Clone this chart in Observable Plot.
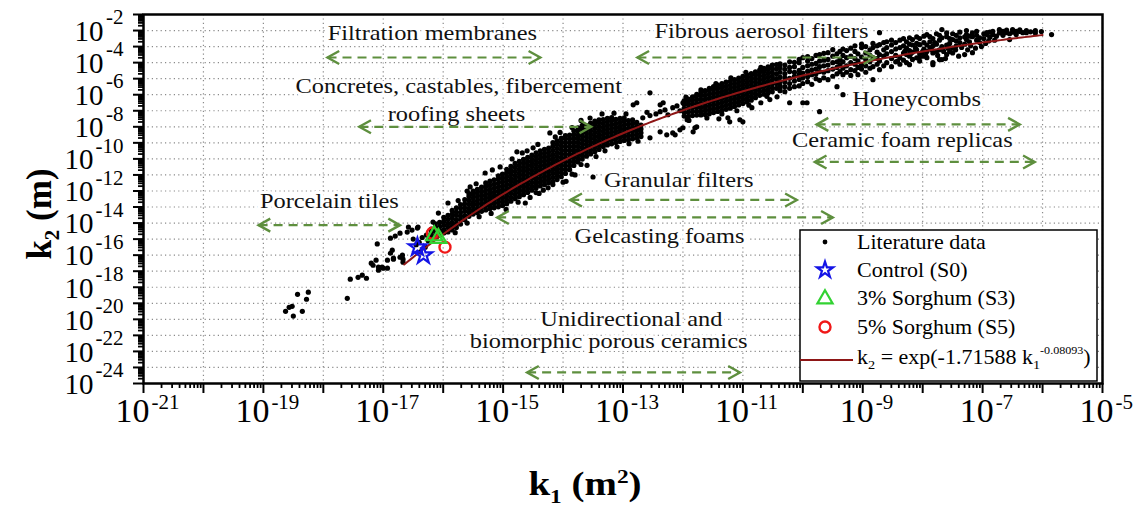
<!DOCTYPE html>
<html>
<head>
<meta charset="utf-8">
<script src="https://cdn.jsdelivr.net/npm/d3@7"></script>
<script src="https://cdn.jsdelivr.net/npm/@observablehq/plot@0.6"></script>
<style>
  body { margin: 0; background: #fff; }
  #wrap { position: relative; width: 1139px; height: 508px; font-family: "Liberation Serif", "Times New Roman", serif; }
  .axt { position: absolute; font-weight: bold; color: #000; white-space: nowrap; line-height: 1; }
  .axt sub, .axt sup { font-size: 60%; }
  #legend { position: absolute; left: 799px; top: 229px; }
</style>
</head>
<body>
<div id="wrap"></div>
<script>
// ---- axis tick labels (exponents of ten) ----
const xLabelExps = [-21, -19, -17, -15, -13, -11, -9, -7, -5];
const yLabelExps = [-24, -22, -20, -18, -16, -14, -12, -10, -8, -6, -4, -2];

// ---- literature data, log10(k1) and log10(k2) ----
// isolated points (porcelain tiles, low-permeability end and scattered outliers)
const litScattered = [
  [-18.63, -19.5], [-18.57, -19.25], [-18.52, -19.19], [-18.5, -19.8], [-18.35, -19.5],
  [-18.43, -18.44], [-18.28, -18.75], [-18.25, -18.31], [-17.6, -18.69],
  [-17.55, -17.5], [-17.42, -17.38], [-17.35, -17.25], [-17.28, -17.44], [-17.2, -16.5],
  [-17.12, -16.31], [-17.08, -16.75], [-17.0, -16.81], [-16.85, -15.69], [-16.83, -16.25],
  [-16.68, -16.0], [-16.67, -16.25], [-16.88, -14.94], [-16.8, -14.81], [-16.72, -14.63],
  [-16.6, -14.56], [-16.52, -14.44], [-16.43, -14.31], [-16.72, -16.13], [-16.83, -16.19],
  [-16.67, -16.44], [-17.17, -16.63], [-17.08, -16.94], [-17.02, -16.75], [-16.93, -16.81],
  [-16.88, -15.88], [-16.93, -16.31], [-16.58, -14.25], [-16.42, -14.25], [-17.1, -15.3],
  [-16.4, -15.2], [-16.35, -14.9], [-16.28, -14.75], [-16.25, -15.1], [-16.3, -15.5],
  [-16.38, -15.8], [-16.45, -15.35], [-16.5, -15.0],
  [-15.3, -10.88], [-15.18, -10.69], [-15.55, -11.75], [-14.77, -9.56], [-14.5, -9.31],
  [-14.68, -9.63], [-14.22, -8.38], [-14.13, -8.63], [-15.92, -12.75], [-16.08, -13.38],
  [-16.17, -13.94], [-14.63, -12.75], [-14.33, -11.95], [-14.17, -11.6], [-13.5, -11.13],
  [-14.55, -12.4], [-14.4, -12.15], [-13.95, -11.4], [-13.8, -11.0], [-13.6, -10.4],
  [-12.67, -7.44], [-12.55, -7.3], [-12.38, -7.06], [-12.17, -6.81], [-12.0, -6.5],
  [-12.6, -7.1], [-12.45, -7.2], [-12.3, -6.95], [-12.25, -7.25], [-12.1, -6.7], [-12.05, -7.0],
  [-12.55, -8.69], [-12.38, -8.31], [-12.27, -8.5], [-12.13, -8.5], [-12.05, -8.19],
  [-11.93, -7.56], [-11.8, -8.06], [-11.83, -8.31], [-12.0, -8.06], [-11.77, -8.0], [-12.17, -8.38],
  [-12.77, -6.5], [-12.33, -6.5], [-12.55, -5.88], [-12.83, -6.63], [-12.38, -6.63],
  [-11.25, -7.44], [-11.22, -7.69], [-11.05, -7.56], [-11.0, -7.69], [-10.85, -6.81],
  [-11.4, -7.5], [-10.7, -6.5], [-10.55, -6.3], [-9.93, -6.5], [-10.38, -5.56], [-10.43, -6.13],
  [-8.3, -3.3], [-8.2, -3.45], [-8.12, -3.1], [-8.0, -3.3], [-7.95, -3.55], [-7.85, -3.2],
  [-7.75, -3.55], [-7.65, -3.3], [-7.58, -3.1], [-7.5, -3.4], [-7.45, -3.2], [-7.35, -3.05],
  [-7.25, -3.2], [-7.2, -2.95], [-7.12, -3.1], [-7.02, -3.0], [-6.95, -2.8], [-6.9, -2.65],
  [-6.8, -2.6], [-7.4, -3.6], [-7.62, -3.75], [-8.42, -3.9], [-8.05, -3.65], [-7.8, -2.75],
  // ragged edges of the dense band
  [-15.75, -12.6], [-15.6, -12.0], [-15.45, -11.55], [-15.05, -10.5], [-14.85, -10.0], [-14.6, -9.5],
  [-14.42, -9.1], [-14.05, -8.35], [-13.85, -8.05], [-13.7, -7.6], [-13.55, -7.45], [-13.35, -7.2],
  [-13.15, -7.15], [-12.95, -7.2], [-15.8, -14.6], [-15.6, -14.0], [-15.4, -13.6], [-15.2, -13.4],
  [-14.95, -13.15], [-14.75, -12.7], [-14.45, -12.1], [-14.25, -11.8], [-14.0, -11.45], [-13.85, -10.95],
  [-13.7, -10.35], [-13.45, -9.85], [-13.3, -9.5], [-13.1, -9.25], [-12.9, -9.05], [-12.75, -8.9],
  [-11.95, -6.15], [-11.7, -5.7], [-11.45, -5.3], [-11.2, -4.95], [-10.95, -4.6], [-10.7, -4.3],
  [-11.9, -7.6], [-11.6, -7.45], [-11.35, -7.2], [-11.1, -7.0], [-10.9, -6.65], [-10.6, -6.1]
];

// dense band, lower part: [log10 k1, log10 k2 values at that k1 ...]
const litBandLow = [
  [-16.20, -14.88, -14.6, -14.37], [-16.13, -14.8, -14.52, -14.29, -14.05],
  [-16.06, -14.73, -14.45, -14.22, -13.96], [-15.99, -14.62, -14.4, -14.13, -13.88, -13.64],
  [-15.92, -14.55, -14.28, -14.04, -13.77, -13.52], [-15.85, -14.43, -14.17, -13.95, -13.68, -13.44, -13.21],
  [-15.78, -14.27, -14.05, -13.79, -13.52, -13.31, -13.05], [-15.71, -14.06, -13.8, -13.57, -13.33, -13.06, -12.85],
  [-15.64, -13.8, -13.54, -13.27, -13.05, -12.8, -12.54], [-15.57, -13.58, -13.32, -13.08, -12.83, -12.59, -12.34, -12.17],
  [-15.50, -13.44, -13.19, -12.93, -12.7, -12.44, -12.22, -12.0], [-15.43, -13.35, -13.1, -12.84, -12.61, -12.36, -12.12, -11.9],
  [-15.36, -13.27, -13.01, -12.77, -12.52, -12.28, -12.03, -11.76], [-15.29, -13.18, -12.92, -12.67, -12.43, -12.19, -11.94, -11.7, -11.5],
  [-15.22, -13.1, -12.87, -12.61, -12.37, -12.12, -11.88, -11.63, -11.38], [-15.15, -13.05, -12.8, -12.56, -12.31, -12.07, -11.82, -11.57, -11.3],
  [-15.08, -12.99, -12.74, -12.5, -12.25, -12.01, -11.76, -11.52, -11.28, -11.06],
  [-15.01, -12.9, -12.66, -12.42, -12.17, -11.93, -11.69, -11.44, -11.2, -10.95],
  [-14.94, -12.79, -12.55, -12.31, -12.07, -11.82, -11.58, -11.34, -11.1, -10.86, -10.65],
  [-14.87, -12.64, -12.41, -12.16, -11.92, -11.67, -11.43, -11.19, -10.94, -10.7, -10.46],
  [-14.80, -12.48, -12.23, -11.99, -11.75, -11.5, -11.26, -11.02, -10.77, -10.52, -10.28],
  [-14.73, -12.36, -12.11, -11.87, -11.62, -11.38, -11.13, -10.89, -10.65, -10.41, -10.16],
  [-14.66, -12.23, -11.98, -11.73, -11.49, -11.25, -11.01, -10.76, -10.52, -10.27, -10.03],
  [-14.59, -12.09, -11.85, -11.61, -11.37, -11.13, -10.88, -10.64, -10.39, -10.15, -9.9],
  [-14.52, -11.95, -11.71, -11.47, -11.23, -10.98, -10.74, -10.49, -10.25, -10.01, -9.77],
  [-14.45, -11.81, -11.56, -11.31, -11.07, -10.83, -10.59, -10.35, -10.11, -9.87, -9.62],
  [-14.38, -11.69, -11.45, -11.21, -10.96, -10.71, -10.47, -10.23, -9.99, -9.75, -9.5],
  [-14.31, -11.6, -11.36, -11.11, -10.87, -10.63, -10.39, -10.14, -9.89, -9.65, -9.41],
  [-14.24, -11.49, -11.25, -11.01, -10.77, -10.53, -10.29, -10.05, -9.81, -9.57, -9.32],
  [-14.17, -11.41, -11.16, -10.91, -10.67, -10.43, -10.19, -9.95, -9.71, -9.46, -9.21, -8.98],
  [-14.10, -11.29, -11.05, -10.81, -10.57, -10.33, -10.09, -9.85, -9.61, -9.36, -9.11, -8.87],
  [-14.03, -11.11, -10.87, -10.63, -10.39, -10.15, -9.91, -9.67, -9.43, -9.19, -8.95, -8.71],
  [-13.96, -10.91, -10.67, -10.43, -10.19, -9.95, -9.71, -9.47, -9.23, -8.99, -8.75, -8.55],
  [-13.89, -10.67, -10.43, -10.19, -9.95, -9.71, -9.47, -9.23, -8.99, -8.75, -8.51],
  [-13.82, -10.41, -10.17, -9.93, -9.69, -9.45, -9.21, -8.97, -8.73, -8.49, -8.25],
  [-13.75, -10.19, -9.95, -9.71, -9.47, -9.23, -8.99, -8.75, -8.51, -8.27, -8.06],
  [-13.68, -10.01, -9.77, -9.53, -9.29, -9.05, -8.81, -8.57, -8.33, -8.11, -7.91],
  [-13.61, -9.83, -9.59, -9.35, -9.11, -8.87, -8.63, -8.39, -8.15, -7.93],
  [-13.54, -9.69, -9.45, -9.21, -8.97, -8.73, -8.49, -8.25, -8.01, -7.77],
  [-13.47, -9.55, -9.31, -9.07, -8.83, -8.59, -8.35, -8.11, -7.87, -7.65],
  [-13.40, -9.41, -9.17, -8.93, -8.69, -8.45, -8.21, -7.97, -7.73, -7.57],
  [-13.33, -9.23, -8.99, -8.75, -8.51, -8.27, -8.03, -7.79, -7.55],
  [-13.26, -9.13, -8.89, -8.65, -8.41, -8.17, -7.93, -7.69, -7.47],
  [-13.19, -9.06, -8.81, -8.57, -8.33, -8.09, -7.85, -7.61, -7.43],
  [-13.12, -8.98, -8.74, -8.5, -8.26, -8.02, -7.78, -7.54],
  [-13.05, -8.91, -8.67, -8.43, -8.19, -7.95, -7.71, -7.47],
  [-12.98, -8.85, -8.61, -8.37, -8.13, -7.89, -7.65, -7.45],
  [-12.91, -8.81, -8.57, -8.33, -8.09, -7.85, -7.61],
  [-12.84, -8.75, -8.51, -8.27, -8.03, -7.79, -7.57],
  [-12.77, -8.69, -8.45, -8.21, -7.97, -7.73],
  [-12.70, -8.61, -8.37, -8.13, -7.89]
];

// dense band, middle part
const litBandMid = [
  [-11.98, -7.33, -7.08, -6.85, -6.6, -6.38], [-11.91, -7.35, -7.1, -6.86, -6.62, -6.4, -6.28],
  [-11.84, -7.3, -7.05, -6.81, -6.57, -6.34, -6.14], [-11.77, -7.27, -7.03, -6.79, -6.55, -6.31, -6.07, -5.98],
  [-11.70, -7.26, -7.02, -6.78, -6.54, -6.3, -6.06, -5.87], [-11.63, -7.24, -7.0, -6.76, -6.52, -6.28, -6.04, -5.8, -5.74],
  [-11.56, -7.19, -6.95, -6.71, -6.47, -6.23, -5.99, -5.75, -5.6], [-11.49, -7.11, -6.87, -6.63, -6.39, -6.15, -5.91, -5.67, -5.49],
  [-11.42, -7.04, -6.8, -6.56, -6.32, -6.08, -5.84, -5.6, -5.4], [-11.35, -6.97, -6.73, -6.49, -6.25, -6.01, -5.77, -5.53, -5.31],
  [-11.28, -6.91, -6.67, -6.43, -6.19, -5.95, -5.71, -5.47, -5.21], [-11.21, -6.84, -6.6, -6.36, -6.12, -5.88, -5.64, -5.4, -5.16],
  [-11.14, -6.74, -6.5, -6.26, -6.02, -5.78, -5.54, -5.3, -5.06], [-11.07, -6.64, -6.4, -6.16, -5.92, -5.68, -5.44, -5.2, -4.96],
  [-11.00, -6.54, -6.3, -6.06, -5.82, -5.58, -5.34, -5.1, -4.86], [-10.93, -6.45, -6.21, -5.97, -5.73, -5.49, -5.25, -5.01, -4.77],
  [-10.86, -6.34, -6.1, -5.86, -5.62, -5.38, -5.14, -4.9, -4.68], [-10.79, -6.19, -5.95, -5.71, -5.47, -5.23, -4.99, -4.75, -4.57],
  [-10.72, -6.04, -5.8, -5.56, -5.32, -5.08, -4.84, -4.6, -4.46], [-10.65, -5.97, -5.73, -5.49, -5.25, -5.01, -4.77, -4.53, -4.36],
  [-10.58, -5.89, -5.65, -5.41, -5.17, -4.93, -4.69, -4.45, -4.26], [-10.51, -5.81, -5.57, -5.33, -5.09, -4.85, -4.61, -4.37, -4.16],
  [-10.44, -5.6, -5.3, -5.0, -4.7, -4.4, -4.12]
];

// upper part (coarse pores), thinner scatter
const litBandHigh = [
  [-10.38, -5.75, -5.45, -5.19, -4.9, -4.6, -4.32, -4.08], [-10.30, -5.81, -5.5, -5.2, -4.95, -4.7, -4.42, -4.15],
  [-10.22, -6.5, -5.6, -5.3, -4.98, -4.56, -4.3, -3.95], [-10.14, -5.5, -5.15, -4.85, -4.6, -4.25, -3.98],
  [-10.06, -5.45, -5.05, -4.72, -4.48, -4.0, -3.8], [-10.00, -6.5, -5.3, -4.95, -4.65, -4.3, -3.69],
  [-9.92, -5.19, -4.88, -4.55, -4.2, -3.9, -3.62], [-9.85, -5.35, -4.75, -4.45, -4.1, -3.75],
  [-9.78, -5.0, -4.7, -4.38, -4.05, -3.55], [-9.72, -7.06, -5.1, -4.56, -4.25, -3.9, -3.5],
  [-9.65, -4.95, -4.6, -4.2, -3.85, -3.42], [-9.58, -5.06, -4.5, -4.15, -3.8, -3.38],
  [-9.50, -4.85, -4.4, -4.0, -3.6, -3.19], [-9.43, -5.5, -4.7, -4.3, -3.95, -3.45],
  [-9.38, -4.56, -4.13, -3.8, -3.3], [-9.33, -6.0, -4.75, -4.35, -3.95, -3.55, -3.15],
  [-9.27, -4.6, -4.2, -3.69, -3.25], [-9.20, -4.8, -4.44, -4.0, -3.6, -3.1],
  [-9.13, -4.5, -4.1, -3.75, -3.3, -2.95], [-9.08, -4.75, -4.3, -3.9, -3.45],
  [-9.02, -4.4, -4.13, -3.65, -3.06, -2.85], [-8.95, -4.6, -4.2, -3.8, -3.4, -3.0],
  [-8.88, -4.35, -3.95, -3.55, -3.2], [-8.83, -5.06, -4.25, -3.69, -3.06, -2.8],
  [-8.76, -4.1, -3.75, -3.35, -2.95], [-8.72, -4.44, -3.9, -3.5, -2.88, -2.13],
  [-8.65, -4.2, -3.6, -3.2, -2.75], [-8.60, -4.0, -3.45, -3.06, -2.7],
  [-8.52, -4.25, -3.75, -3.31, -2.9, -2.6], [-8.45, -3.95, -3.55, -3.15, -2.75],
  [-8.38, -4.1, -3.7, -3.06, -2.6], [-8.32, -3.85, -3.4, -2.95, -2.5],
  [-8.27, -4.0, -3.5, -3.1, -2.7], [-8.22, -4.13, -3.6, -3.25, -2.85, -2.45],
  [-8.17, -3.8, -3.35, -2.9, -2.56], [-8.10, -3.7, -3.2, -2.8, -2.4],
  [-8.05, -3.9, -3.45, -2.88, -2.5], [-7.98, -3.6, -3.15, -2.75, -2.35],
  [-7.93, -3.69, -3.3, -2.9, -2.25], [-7.88, -3.06, -2.7, -2.38],
  [-7.83, -4.13, -4.0, -3.4, -2.95, -2.5], [-7.77, -3.31, -2.85, -2.2],
  [-7.72, -3.81, -3.2, -2.6, -2.3], [-7.68, -3.81, -3.0, -2.45, -1.94],
  [-7.60, -3.5, -2.9, -2.38, -2.15], [-7.55, -3.31, -2.8, -2.5],
  [-7.50, -3.1, -2.56, -2.2], [-7.44, -2.95, -2.65, -2.3],
  [-7.38, -2.75, -2.45, -2.1], [-7.30, -3.5, -2.85, -2.4],
  [-7.27, -2.56, -2.25, -2.0], [-7.22, -2.7, -2.35],
  [-7.17, -3.38, -2.38, -2.15], [-7.10, -2.6, -2.3, -2.05],
  [-7.05, -2.75, -2.45], [-6.98, -2.5, -2.2], [-6.93, -2.25, -2.13], [-6.88, -2.42, -2.1],
  [-6.83, -2.25, -2.05], [-6.77, -2.35], [-6.72, -1.94, -2.15], [-6.66, -2.3, -2.05],
  [-6.60, -2.13, -1.98], [-6.55, -2.56, -2.2], [-6.50, -1.94, -2.1], [-6.44, -2.25, -2.05],
  [-6.38, -2.06, -1.95], [-6.33, -2.13], [-6.27, -2.13, -2.0], [-6.20, -2.08],
  [-6.12, -2.15, -2.0], [-6.02, -2.06], [-5.85, -2.25]
];

// ---- this work (log10 k1, log10 k2) ----
const controlS0 = [[-16.43, -15.5], [-16.33, -16.0]];
const sorghumS3 = [[-16.15, -14.78], [-16.08, -14.95]];
const sorghumS5 = [[-15.97, -15.5], [-16.18, -14.63]];

// ---- fitted curve k2 = exp(a * k1^b) ----
const fitA = -1.71588, fitB = -0.08093;
const fitRangeExp = [-16.65, -6.0];

// ---- material classes: label text and position, arrow span ----
const classNames = ["Filtration membranes", "Fibrous aerosol filters", "Concretes, castables, fibercement",
  "roofing sheets", "Honeycombs", "Ceramic foam replicas", "Porcelain tiles", "Granular filters",
  "Gelcasting foams", "Unidirectional and", "biomorphic porous ceramics"];
const classK1Exp = [-16.18, -10.69, -15.74, -15.78, -8.10, -8.34, -17.9, -12.07, -12.39, -12.86, -13.24];
const classK2Exp = [-2.18, -2.05, -5.48, -7.23, -6.31, -8.85, -12.65, -11.34, -14.84, -20.0, -21.38];
const arrowFromExp = [-17.93, -12.76, -17.4, -9.77, -9.8, -19.08, -13.88, -15.1, -14.6];
const arrowToExp = [-14.38, -8.79, -13.53, -6.38, -6.13, -16.72, -10.1, -9.5, -11.05];
const arrowK2Exp = [-3.68, -3.68, -8.0, -7.85, -10.19, -14.13, -12.56, -13.65, -23.31];

// ---------------------------------------------------------------
const p10 = e => Math.pow(10, e);
const cols = [...litBandLow, ...litBandMid, ...litBandHigh];
const literature = [
  ...litScattered.map(([a, b]) => ({k1: p10(a), k2: p10(b)})),
  ...cols.flatMap(([a, ...ys]) => ys.map(b => ({k1: p10(a), k2: p10(b)})))
];
const toPts = arr => arr.map(([a, b]) => ({k1: p10(a), k2: p10(b)}));

const fit = d3.range(fitRangeExp[0], fitRangeExp[1] + 1e-9, 0.05).map(e => {
  const k1 = p10(e);
  return {k1, k2: Math.exp(fitA * Math.pow(k1, fitB))};
});

const classLabels = classNames.map((t, i) => ({t, k1: p10(classK1Exp[i]), k2: p10(classK2Exp[i])}));
const arrows = arrowFromExp.map((a, i) => ({a: p10(a), b: p10(arrowToExp[i]), y: p10(arrowK2Exp[i])}));

// open chevron heads for the double arrows (tip at the anchor point)
const chevron = dir => ({
  draw(ctx, size) {
    const r = Math.sqrt(size / Math.PI);
    ctx.moveTo(-dir * r * 1.8, -r);
    ctx.lineTo(0, 0);
    ctx.lineTo(-dir * r * 1.8, r);
  }
});

// tick positions: every decade major, 2..9 minor
const xMajor = d3.range(-21, -4).map(p10);
const yMajor = d3.range(-24, 0).map(p10);
const minorsOf = (lo, hi) => d3.range(lo, hi).flatMap(e => d3.range(2, 10).map(m => m * p10(e)));
const xMinor = minorsOf(-21, -5);
const yMinor = minorsOf(-24, -1);

const green = "#5e8f3e";
const serif = '"Liberation Serif", "Times New Roman", serif';
const xTickFont = 34, yTickFont = 29, expFont = 21;

const x3 = xLabelExps.filter(e => String(e).length === 3);
const x2 = xLabelExps.filter(e => String(e).length === 2);
const y3 = yLabelExps.filter(e => String(e).length === 3);
const y2 = yLabelExps.filter(e => String(e).length === 2);

const xTickLabels = (exps, shift) => [
  Plot.text(exps, {x: p10, frameAnchor: "bottom", text: () => "10", textAnchor: "end", dx: shift - 1, dy: 38, fontSize: xTickFont, fill: "black"}),
  Plot.text(exps, {x: p10, frameAnchor: "bottom", text: d => String(d), textAnchor: "start", dx: shift + 1, dy: 25, fontSize: expFont, fill: "black"})
];
const yTickLabels = (exps, expWidth) => [
  Plot.text(exps, {y: p10, frameAnchor: "left", text: () => "10", textAnchor: "end", dx: -22 - expWidth, dy: 1, fontSize: yTickFont, fill: "black"}),
  Plot.text(exps, {y: p10, frameAnchor: "left", text: d => String(d), textAnchor: "end", dx: -20, dy: -13, fontSize: expFont, fill: "black"})
];

const chart = Plot.plot({
  width: 1139,
  height: 508,
  marginLeft: 143,
  marginRight: 37,
  marginTop: 14,
  marginBottom: 125,
  style: {fontFamily: serif, background: "white", color: "black", overflow: "visible"},
  x: {type: "log", domain: [1e-21, 1e-5]},
  y: {type: "log", domain: [1e-24, 1e-1]},
  marks: [
    Plot.gridX(xMajor, {stroke: "#8a8a8a", strokeOpacity: 1, strokeWidth: 1.2, strokeDasharray: "1.2,3.2"}),
    Plot.gridY(yMajor, {stroke: "#8a8a8a", strokeOpacity: 1, strokeWidth: 1.2, strokeDasharray: "1.2,3.2"}),
    Plot.text(classLabels, {x: "k1", y: "k2", text: "t", fontSize: 20, fill: "#111", stroke: "white", strokeWidth: 6}),
    Plot.dot(literature, {x: "k1", y: "k2", r: 2.6, fill: "black"}),
    Plot.line(fit, {x: "k1", y: "k2", stroke: "#8e1616", strokeWidth: 2}),
    Plot.link(arrows, {x1: "a", x2: "b", y1: "y", y2: "y", stroke: green, strokeWidth: 2.2, strokeDasharray: "9,6"}),
    Plot.dot(arrows, {x: "a", y: "y", symbol: chevron(-1), r: 6.5, stroke: green, strokeWidth: 2.4, fill: "none"}),
    Plot.dot(arrows, {x: "b", y: "y", symbol: chevron(1), r: 6.5, stroke: green, strokeWidth: 2.4, fill: "none"}),
    Plot.dot(toPts(sorghumS5), {x: "k1", y: "k2", symbol: "circle", r: 5.5, stroke: "#f01818", strokeWidth: 2.4, fill: "none"}),
    Plot.dot(toPts(sorghumS3), {x: "k1", y: "k2", symbol: "triangle", r: 6, stroke: "#32d232", strokeWidth: 2.2, fill: "none"}),
    Plot.dot(toPts(controlS0), {x: "k1", y: "k2", symbol: "star", r: 5.5, stroke: "#1414e6", strokeWidth: 2.2, fill: "none"}),
    Plot.frame({stroke: "black", strokeWidth: 2.5}),
    Plot.axisX({ticks: xMajor, tickSize: 10, strokeWidth: 2, tickFormat: () => "", label: null}),
    Plot.axisX({ticks: xMinor, tickSize: 5, strokeWidth: 1.8, tickFormat: () => "", label: null}),
    Plot.axisY({ticks: yMajor, tickSize: 10, strokeWidth: 2, tickFormat: () => "", label: null}),
    Plot.axisY({ticks: yMinor, tickSize: 5, strokeWidth: 1.8, tickFormat: () => "", label: null}),
    ...xTickLabels(x3, 7),
    ...xTickLabels(x2, 12),
    ...yTickLabels(y3, 28),
    ...yTickLabels(y2, 18)
  ]
});

// widen the class labels horizontally about their own anchor (the lettering is set wide)
const classSet = new Set(classNames);
d3.select(chart).selectAll("text")
  .filter(function() { return classSet.has(this.textContent); })
  .attr("transform", function() { return `${this.getAttribute("transform") || ""} scale(1.22,1)`; });

const wrap = document.getElementById("wrap");
wrap.appendChild(chart);

// axis titles
const xt = document.createElement("div");
xt.className = "axt";
xt.innerHTML = "k<sub>1</sub> (m<sup>2</sup>)";
xt.style.cssText = "left:585px;top:487px;font-size:33px;transform:translate(-50%,-50%) scaleX(1.18);";
wrap.appendChild(xt);

const yt = document.createElement("div");
yt.className = "axt";
yt.innerHTML = "k<sub>2</sub> (m)";
yt.style.cssText = "left:42px;top:214px;font-size:35px;transform:translate(-50%,-50%) rotate(-90deg);";
wrap.appendChild(yt);

// legend box
const lg = d3.create("svg").attr("id", "legend").attr("width", 300).attr("height", 154)
  .style("font-family", serif).style("font-size", "20px");
lg.append("rect").attr("x", 1).attr("y", 1).attr("width", 297).attr("height", 151)
  .attr("fill", "white").attr("stroke", "black").attr("stroke-width", 1.5);
const rows = [13, 41, 69, 98, 128];
const sx = 26, tx = 58;
lg.append("circle").attr("cx", sx).attr("cy", rows[0]).attr("r", 2.4).attr("fill", "black");
lg.append("path").attr("d", d3.symbol(d3.symbolStar, 80)()).attr("transform", `translate(${sx},${rows[1]})`)
  .attr("fill", "none").attr("stroke", "#1414e6").attr("stroke-width", 2.2);
lg.append("path").attr("d", d3.symbol(d3.symbolTriangle, 100)()).attr("transform", `translate(${sx},${rows[2] + 1})`)
  .attr("fill", "none").attr("stroke", "#32d232").attr("stroke-width", 2.2);
lg.append("circle").attr("cx", sx).attr("cy", rows[3]).attr("r", 5.5).attr("fill", "none")
  .attr("stroke", "#f01818").attr("stroke-width", 2.4);
lg.append("line").attr("x1", 1).attr("x2", 54).attr("y1", rows[4] + 3).attr("y2", rows[4] + 3)
  .attr("stroke", "#8e1616").attr("stroke-width", 2);
const legendNames = ["Literature data", "Control (S0)", "3% Sorghum (S3)", "5% Sorghum (S5)"];
legendNames.forEach((t, i) => {
  lg.append("g").attr("transform", `translate(${tx},${rows[i] + 7}) scale(1.1,1)`)
    .append("text").text(t);
});
const ft = lg.append("g").attr("transform", `translate(${tx},${rows[4] + 7}) scale(1.1,1)`).append("text");
ft.append("tspan").text("k");
ft.append("tspan").attr("dy", 5).attr("font-size", 13).text("2");
ft.append("tspan").attr("dy", -5).text(" = exp(-1.71588 k");
ft.append("tspan").attr("dy", 5).attr("font-size", 13).text("1");
ft.append("tspan").attr("dy", -15).attr("font-size", 11).text("-0.08093");
ft.append("tspan").attr("dy", 10).text(")");
wrap.appendChild(lg.node());
</script>
</body>
</html>
